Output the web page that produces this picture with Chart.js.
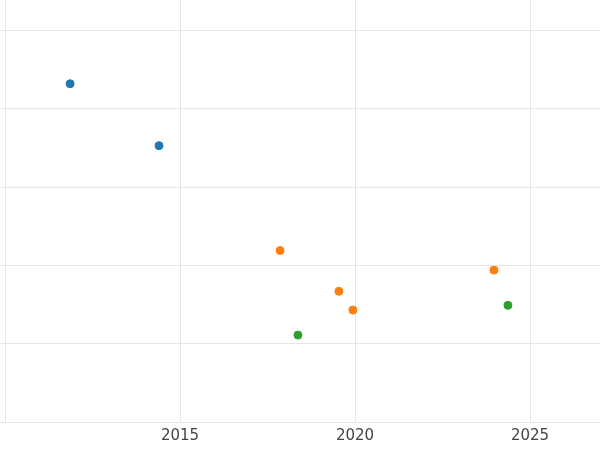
<!DOCTYPE html>
<html>
<head>
<script src="https://cdn.jsdelivr.net/npm/chart.js@4"></script>
<style>body{margin:0}#wrap{width:600px;height:450px}</style>
</head>
<body>
<div id="wrap"><canvas id="c"></canvas></div>
<script>
// values (y in grid units, no labels shown)
const blueX = [2011.86, 2014.4];
const blueY = [4.32, 3.53];
const orangeX = [2017.86, 2019.54, 2019.94, 2023.97];
const orangeY = [2.19, 1.67, 1.43, 1.94];
const greenX = [2018.37, 2024.37];
const greenY = [1.11, 1.49];
const xTicks = [2010, 2015, 2020, 2025];
const yTicks = [0, 1, 2, 3, 4, 5];

const pts = (xs, ys) => xs.map((x, i) => ({ x, y: ys[i] }));
const ds = (xs, ys, color) => ({
  data: pts(xs, ys),
  backgroundColor: color,
  borderColor: color,
  pointRadius: 4,
  pointHoverRadius: 4,
});

new Chart(document.getElementById("c"), {
  type: "scatter",
  data: {
    datasets: [
      ds(blueX, blueY, "#1f77b4"),
      ds(orangeX, orangeY, "#ff7f0e"),
      ds(greenX, greenY, "#2ca02c"),
    ],
  },
  options: {
    responsive: true,
    maintainAspectRatio: false,
    animation: false,
    layout: { padding: 0, autoPadding: false },
    plugins: { legend: { display: false }, tooltip: { enabled: false } },
    scales: {
      x: {
        type: "linear",
        min: 2009.86,
        max: 2027,
        afterBuildTicks: (axis) => { axis.ticks = xTicks.map((v) => ({ value: v })); },
        grid: { color: "#e6e6e6", drawTicks: false },
        border: { display: false },
        ticks: {
          padding: 5,
          color: "#444",
          font: { family: "DejaVu Sans", size: 15 },
          callback: (v) => (v === 2010 ? "" : v),
        },
      },
      y: {
        min: 0,
        max: 5.39,
        afterBuildTicks: (axis) => { axis.ticks = yTicks.map((v) => ({ value: v })); },
        grid: { color: "#e6e6e6", drawTicks: false },
        border: { display: false },
        ticks: { display: false },
      },
    },
  },
});
</script>
</body>
</html>
